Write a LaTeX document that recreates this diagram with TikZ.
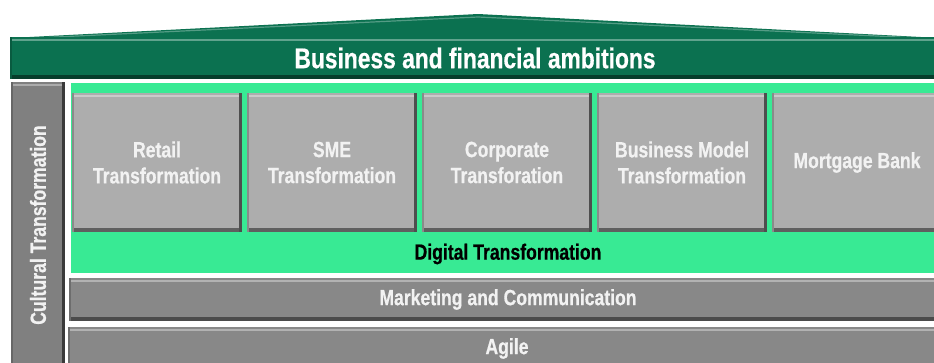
\documentclass[tikz,border=0pt]{standalone}
\usepackage{fontspec}
\setmainfont{Liberation Sans}[FakeStretch=0.80, BoldFeatures={FakeBold=0.6}]
\usetikzlibrary{positioning}

\definecolor{ambgreen}{HTML}{0B7150}
\definecolor{digigreen}{HTML}{38EA94}
\definecolor{pillargray}{HTML}{ADADAD}
\definecolor{bargray}{HTML}{888888}
\definecolor{sidegray}{HTML}{808080}
\definecolor{labelwhite}{HTML}{F2F2F2}

\tikzset{
  bevel/.style={fill=#1, inner sep=0pt, outer sep=0pt,
    path picture={
      \fill[#1!65!white] ([yshift=-2pt]path picture bounding box.north west) rectangle ([yshift=-4pt]path picture bounding box.north east);
      \fill[#1!55!black] (path picture bounding box.south west) rectangle ([yshift=4pt]path picture bounding box.south east);
      \fill[#1!45!black] (path picture bounding box.north east) rectangle ([xshift=-3pt]path picture bounding box.south east);
      \fill[#1!80!black] (path picture bounding box.north west) rectangle ([xshift=2pt]path picture bounding box.south west);
    }},
  pillar/.style={bevel=pillargray, minimum width=170pt, minimum height=139pt, align=center,
    text=labelwhite, font=\bfseries\fontsize{22}{26}\selectfont},
  band/.style={bevel=bargray, minimum width=878pt, minimum height=43pt,
    text=labelwhite, font=\bfseries\fontsize{22}{24}\selectfont},
}

\begin{document}
\begin{tikzpicture}[x=1pt,y=-1pt]
    \useasboundingbox (0,0) rectangle (934,362);
    % roof
    \fill[ambgreen] (10,38) -- (478,14) -- (940,38) -- cycle;
    \draw[ambgreen!70!white, line width=1.2pt] (14,39) -- (478,17) -- (940,39);
    \node[bevel=ambgreen, minimum width=930pt, minimum height=42pt, text=white,
          font=\bfseries\fontsize{28.5}{30}\selectfont] (ambitions) at (475,58) {Business and financial ambitions};

    % side pillar
    \node[bevel=sidegray, minimum width=54pt, minimum height=286pt] (culture) at (38,225) {};
    \node[rotate=90, text=labelwhite, font=\bfseries\fontsize{22}{24}\selectfont] (culturetxt) at (culture) {Cultural Transformation};

    % digital layer with the pillars on it
    \node[fill=digigreen, inner sep=0pt, minimum width=869pt, minimum height=190pt] (digital) at (505.5,178) {};
    \node[font=\bfseries\fontsize{22}{24}\selectfont] (digitaltxt) at (508,254) {Digital Transformation};
    \node[pillar] (retail) at (157,162.5) {Retail\\Transformation};
    \node[pillar,right=5pt of retail] (sme) {SME\\Transformation};
    \node[pillar,right=5pt of sme] (corporate) {Corporate\\Transforation};
    \node[pillar,right=5pt of corporate] (bizmodel) {Business Model\\Transformation};
    \node[pillar,right=5pt of bizmodel] (mortgage) {Mortgage Bank};

    % bottom bands
    \node[band] (marketing) at (508,299.5) {Marketing and Communication};
    \node[band] (agile) at (507,348.5) {Agile};
\end{tikzpicture}
\end{document}
